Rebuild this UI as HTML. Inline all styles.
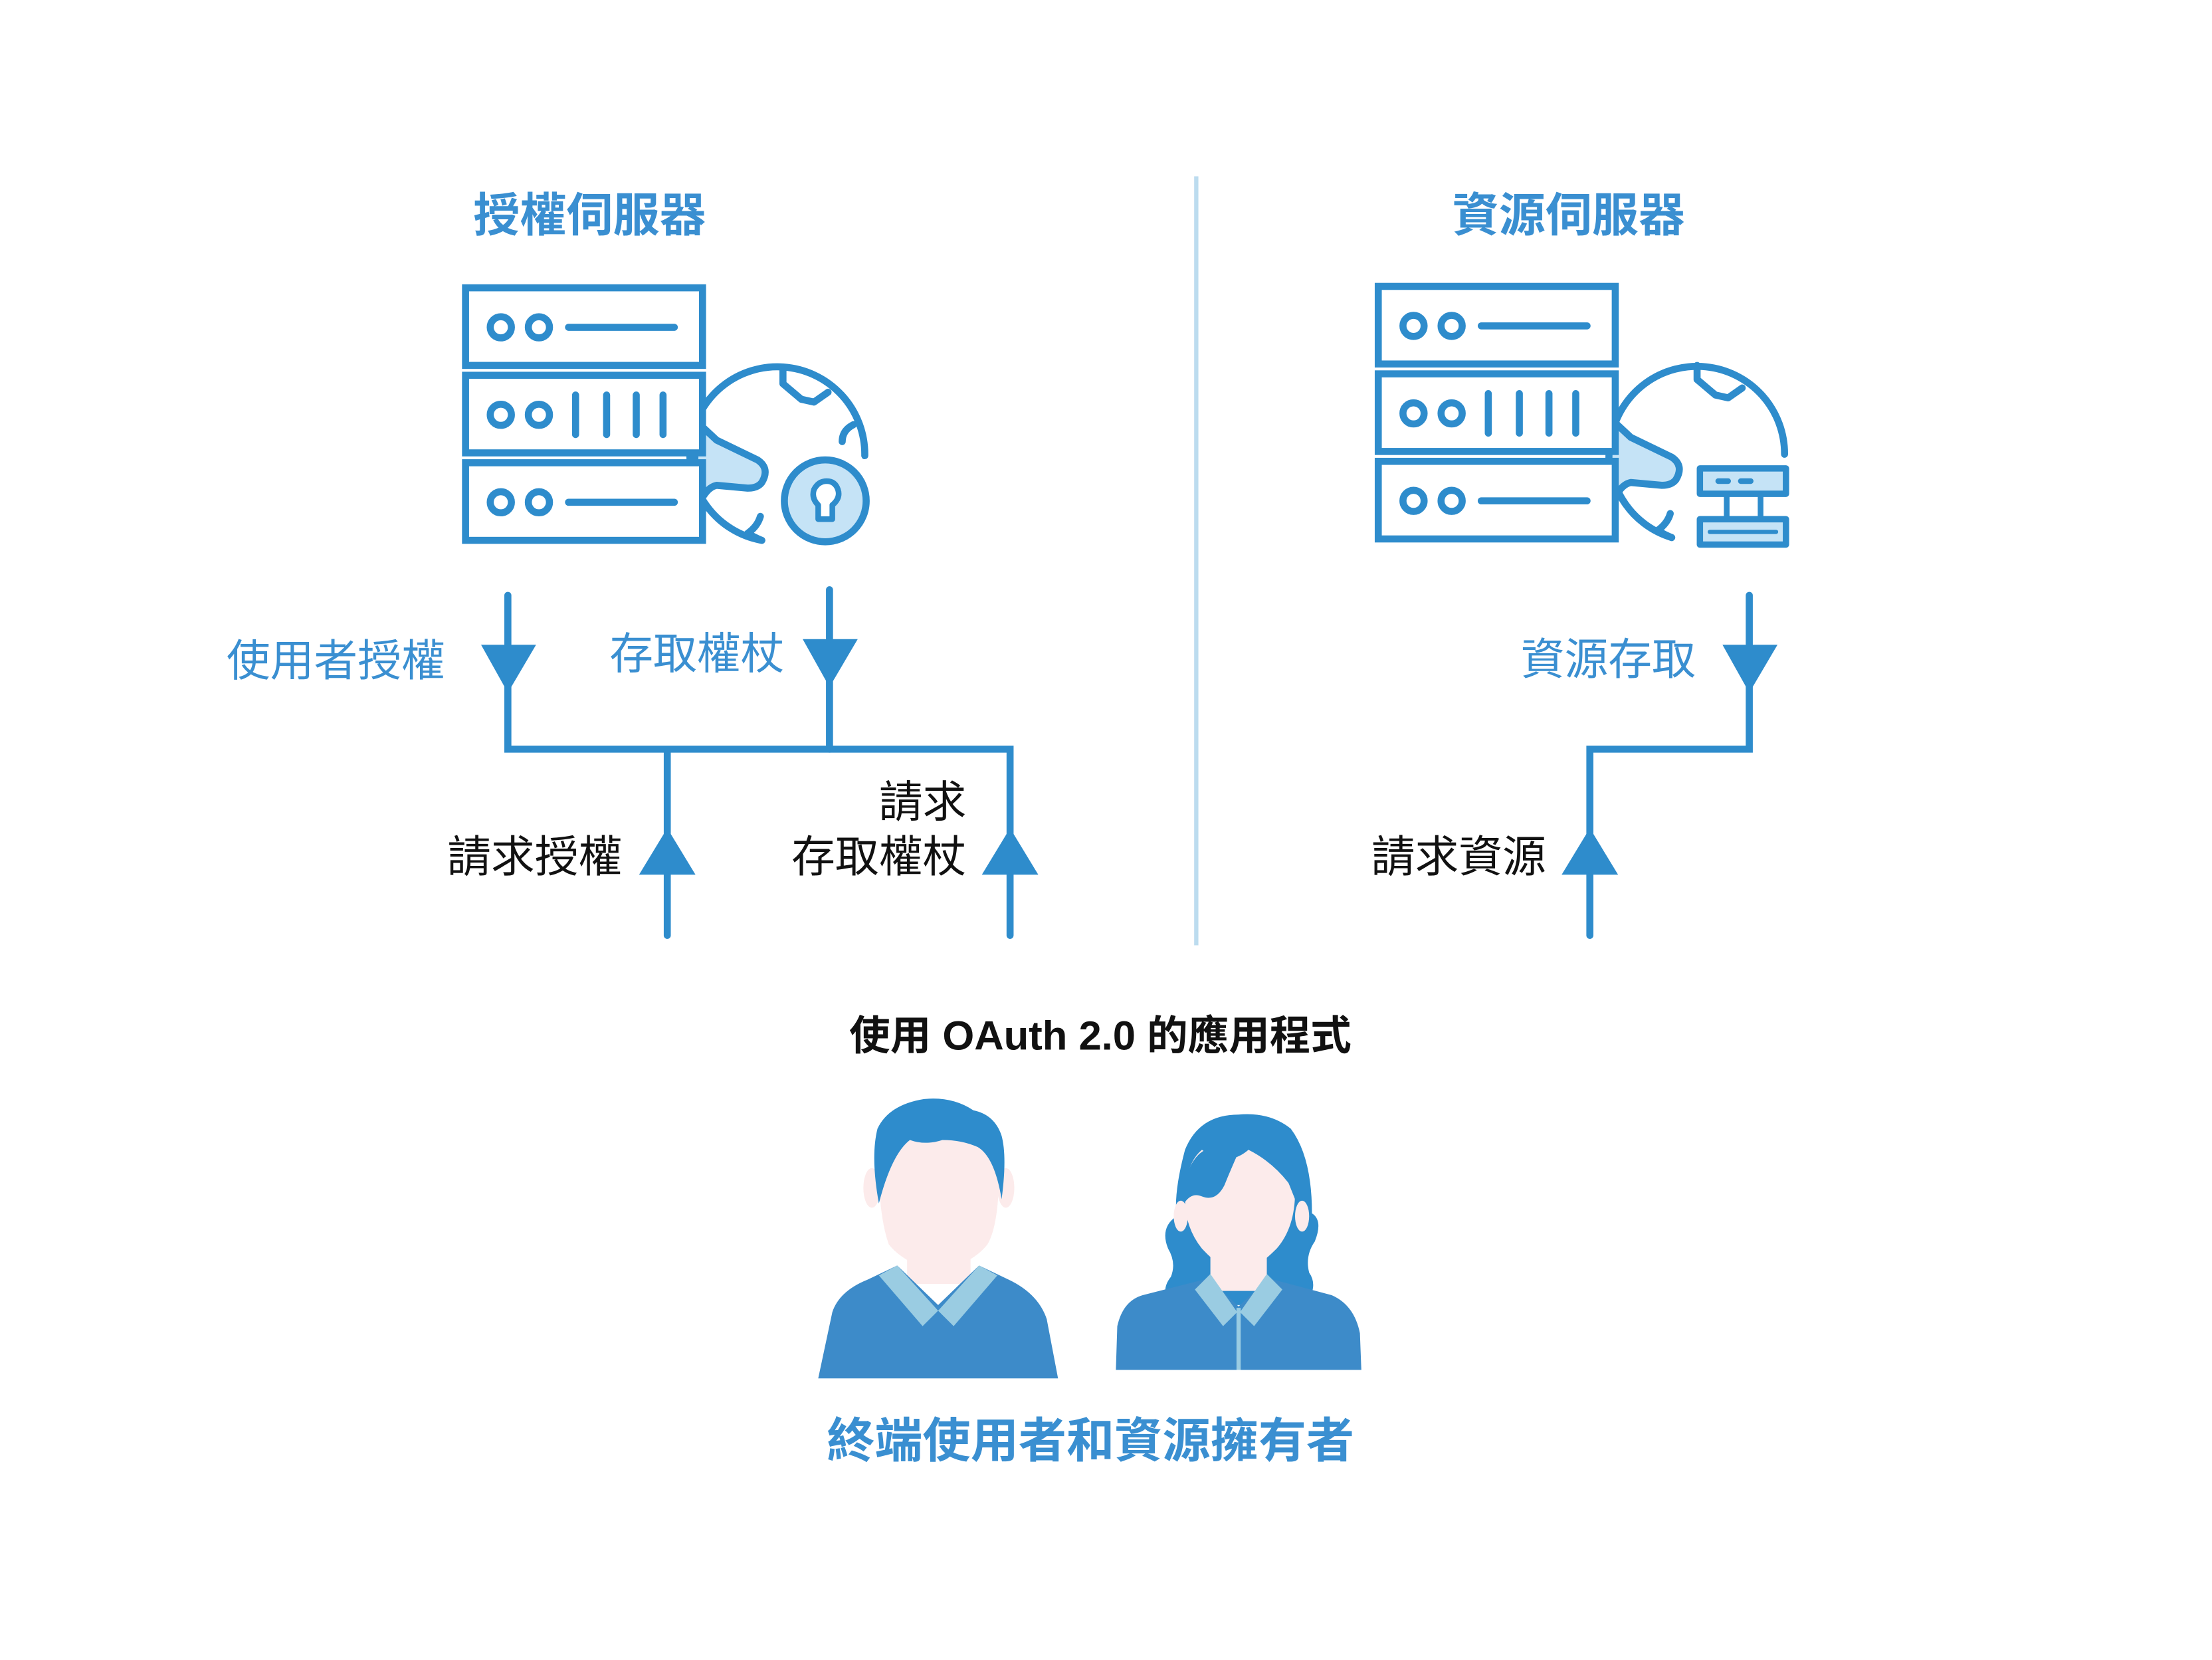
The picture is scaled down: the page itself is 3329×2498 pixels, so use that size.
<!DOCTYPE html>
<html><head><meta charset="utf-8"><style>
html,body{margin:0;padding:0;background:#fff;}
svg{display:block;}
text{font-family:"Liberation Sans","Noto Sans CJK TC",sans-serif;}
</style></head><body>
<svg width="3329" height="2498" viewBox="0 0 1568 1176.6" xmlns="http://www.w3.org/2000/svg">
<rect width="1570" height="1180" fill="#fff"/>
<line x1="848" y1="125" x2="848" y2="670" stroke="#bcdcef" stroke-width="3"/>

<text x="418" y="164" font-size="33" font-weight="bold" fill="#3a8fd1" text-anchor="middle">授權伺服器</text>
<text x="1112" y="164" font-size="33" font-weight="bold" fill="#3a8fd1" text-anchor="middle">資源伺服器</text>

<g stroke="#2e8ccc" stroke-width="5" fill="none" stroke-linecap="round" stroke-linejoin="round">
 <path d="M540,383 A62,62 0 1 1 613,323"/>
 <path d="M493,298 L508,312 L537,326 Q546,332 540,342 Q537,346 530,346 L508,344 Q503,345 499,351 L492,356 Z" fill="#c5e3f6"/>
 <path d="M555,262 L555,272 L568,283 L577,285 L587,278"/>
 <path d="M597,313 Q597,305 605,301"/>
 <path d="M540,383 Q535,381 530,378 Q537,373 539,366"/>
 <circle cx="585" cy="355" r="29" fill="#c5e3f6"/>
 <path d="M580,368 L580,358 Q575,353 577,347 Q580,341 586,341 Q592,341 594,347 Q596,353 590,358 L590,368 Z" fill="#fff" stroke-width="4"/>
</g>
<g stroke="#2e8ccc" stroke-width="5" fill="#fff" stroke-linecap="round">
 <rect x="330" y="204" width="168" height="55"/>
 <rect x="330" y="266" width="168" height="55"/>
 <rect x="330" y="328" width="168" height="55"/>
 <circle cx="355" cy="232" r="7.5"/><circle cx="382" cy="232" r="7.5"/>
 <circle cx="355" cy="294" r="7.5"/><circle cx="382" cy="294" r="7.5"/>
 <circle cx="355" cy="356" r="7.5"/><circle cx="382" cy="356" r="7.5"/>
 <line x1="403" y1="232" x2="478" y2="232"/>
 <line x1="403" y1="356" x2="478" y2="356"/>
 <line x1="408" y1="280" x2="408" y2="308"/><line x1="430" y1="280" x2="430" y2="308"/>
 <line x1="451" y1="280" x2="451" y2="308"/><line x1="470" y1="280" x2="470" y2="308"/>
</g>

<g stroke="#2e8ccc" stroke-width="5" fill="none" stroke-linecap="round" stroke-linejoin="round">
 <path d="M1185,381 A62,62 0 1 1 1265,322"/>
 <path d="M1141,296 L1156,310 L1185,324 Q1194,330 1188,340 Q1185,344 1178,344 L1156,342 Q1151,343 1147,349 L1140,354 Z" fill="#c5e3f6"/>
 <path d="M1203,259 L1203,269 L1216,280 L1225,282 L1235,275"/>
 <path d="M1185,381 Q1180,379 1175,376 Q1182,371 1184,364"/>
 <rect x="1205" y="332" width="61" height="18" fill="#c5e3f6" stroke-width="4.5"/>
 <line x1="1218" y1="341" x2="1225" y2="341" stroke-width="4"/><line x1="1234" y1="341" x2="1241" y2="341" stroke-width="4"/>
 <line x1="1224" y1="350" x2="1224" y2="368" stroke-width="4"/><line x1="1248" y1="350" x2="1248" y2="368" stroke-width="4"/>
 <rect x="1205" y="368" width="61" height="18" fill="#c5e3f6" stroke-width="4.5"/>
 <line x1="1212" y1="377" x2="1259" y2="377" stroke-width="3"/>
</g>
<g stroke="#2e8ccc" stroke-width="5" fill="#fff" stroke-linecap="round">
 <rect x="977" y="203" width="168" height="55"/>
 <rect x="977" y="265" width="168" height="55"/>
 <rect x="977" y="327" width="168" height="55"/>
 <circle cx="1002" cy="231" r="7.5"/><circle cx="1029" cy="231" r="7.5"/>
 <circle cx="1002" cy="293" r="7.5"/><circle cx="1029" cy="293" r="7.5"/>
 <circle cx="1002" cy="355" r="7.5"/><circle cx="1029" cy="355" r="7.5"/>
 <line x1="1050" y1="231" x2="1125" y2="231"/>
 <line x1="1050" y1="355" x2="1125" y2="355"/>
 <line x1="1055" y1="279" x2="1055" y2="307"/><line x1="1077" y1="279" x2="1077" y2="307"/>
 <line x1="1098" y1="279" x2="1098" y2="307"/><line x1="1117" y1="279" x2="1117" y2="307"/>
</g>

<g stroke="#2e8ccc" stroke-width="5" fill="none" stroke-linecap="round" stroke-linejoin="miter">
 <path d="M360,422 L360,531 L716,531 L716,663"/>
 <path d="M588,418 L588,531"/>
 <path d="M473,531 L473,663"/>
 <path d="M1240,422 L1240,531 L1127,531 L1127,663"/>
</g>
<g fill="#2e8ccc">
 <polygon points="341,457 380,457 360,491"/>
 <polygon points="569,453 608,453 588,487"/>
 <polygon points="1221,457 1260,457 1240,491"/>
 <polygon points="453,620 493,620 473,587"/>
 <polygon points="696,620 736,620 716,587"/>
 <polygon points="1107,620 1147,620 1127,587"/>
</g>

<g font-size="31">
 <text x="238" y="479" fill="#3a8fd1" text-anchor="middle">使用者授權</text>
 <text x="494" y="474" fill="#3a8fd1" text-anchor="middle">存取權杖</text>
 <text x="1140" y="478" fill="#3a8fd1" text-anchor="middle">資源存取</text>
 <text x="441" y="618" fill="#111" text-anchor="end">請求授權</text>
 <text x="685" y="579" fill="#111" text-anchor="end">請求</text>
 <text x="685" y="618" fill="#111" text-anchor="end">存取權杖</text>
 <text x="1096" y="618" fill="#111" text-anchor="end">請求資源</text>
</g>
<text x="780" y="744" font-size="29" font-weight="bold" fill="#111" text-anchor="middle">使用 OAuth 2.0 的應用程式</text>
<text x="773" y="1033" font-size="34" font-weight="bold" fill="#3a8fd1" text-anchor="middle">終端使用者和資源擁有者</text>

<g>
 <ellipse cx="618" cy="842" rx="6" ry="14" fill="#fcebeb"/>
 <ellipse cx="713" cy="842" rx="6" ry="14" fill="#fcebeb"/>
 <rect x="643" y="870" width="45" height="40" fill="#fcebeb"/>
 <path d="M623,835 Q622,800 640,800 L690,800 Q708,805 708,840 Q707,870 700,882 Q690,895 665,902 Q640,895 630,882 Q624,865 623,835 Z" fill="#fcebeb"/>
 <path d="M580,977 L590,930 Q595,915 615,907 L636,897 L665,925 L694,897 L715,907 Q736,917 742,935 L750,977 Z" fill="#3d8bc9"/>
 <path d="M623,904 L636,897 L665,929 L654,940 Z" fill="#9acce2"/>
 <path d="M707,904 L694,897 L665,929 L676,940 Z" fill="#9acce2"/>
 <path d="M623,853 Q617,820 622,800 Q630,783 655,779 Q675,777 690,787 Q705,790 710,805 Q714,820 710,850 Q705,820 693,813 Q682,808 668,808 Q656,812 645,808 Q632,818 623,853 Z" fill="#2e8ccc"/>
</g>
<g>
 <path d="M878,790 Q850,790 840,815 Q832,845 834,862 Q822,870 828,885 Q834,895 830,905 Q822,915 830,925 L925,925 Q935,912 928,902 Q925,890 932,880 Q938,865 930,860 Q930,820 915,800 Q900,788 878,790 Z" fill="#2e8ccc"/>
 <rect x="858" y="885" width="40" height="30" fill="#fcebeb"/>
 <ellipse cx="837" cy="862" rx="5" ry="11" fill="#fcebeb"/>
 <ellipse cx="923" cy="862" rx="5" ry="11" fill="#fcebeb"/>
 <path d="M840,850 Q840,825 852,815 Q870,828 885,815 Q905,825 918,845 Q918,870 905,885 Q890,900 878,904 Q866,900 852,885 Q840,870 840,850 Z" fill="#fcebeb"/>
 <path d="M840,852 Q838,830 850,818 Q862,808 880,812 Q872,830 868,840 Q862,852 852,848 Q845,845 840,852 Z" fill="#2e8ccc"/>
 <path d="M897,812 Q902,825 912,835 L918,850 Q920,830 912,815 Z" fill="#2e8ccc"/>
 <path d="M791,971 L792,940 Q796,922 810,918 L857,906 L878,926 L899,906 L944,918 Q960,925 964,945 L965,971 Z" fill="#3d8bc9"/>
 <path d="M847,914 L858,903 L877,930 L867,940 Z" fill="#9acce2"/>
 <path d="M909,914 L898,903 L879,930 L889,940 Z" fill="#9acce2"/>
 <rect x="876.5" y="927" width="3" height="44" fill="#9acce2"/>
</g>
</svg>
</body></html>
